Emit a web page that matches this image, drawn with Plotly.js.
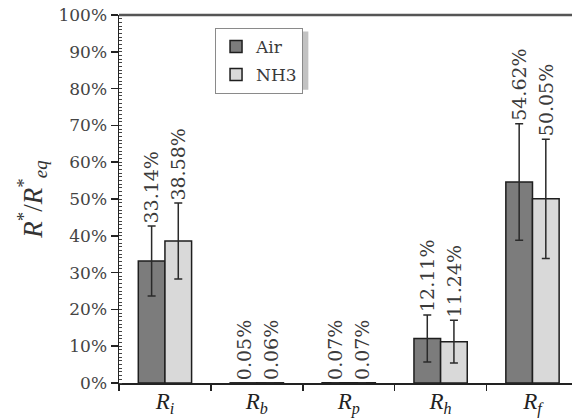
<!DOCTYPE html>
<html>
<head>
<meta charset="utf-8">
<script src="https://cdn.plot.ly/plotly-3.0.1.min.js"></script>
<style>html,body{margin:0;padding:0;background:#fff;}#chart{width:572px;height:419px;}</style>
</head>
<body>
<div id="chart"></div>
<script>
// ---- data ----
const categories = ['Ri', 'Rb', 'Rp', 'Rh', 'Rf'];
const tickLabels = ['<i>R</i><sub><i>i</i></sub>', '<i>R</i><sub><i>b</i></sub>', '<i>R</i><sub><i>p</i></sub>', '<i>R</i><sub><i>h</i></sub>', '<i>R</i><sub><i>f</i></sub>'];
const seriesNames = ['Air', 'NH3'];
const airValues = [33.14, 0.05, 0.07, 12.11, 54.62];
const nh3Values = [38.58, 0.06, 0.07, 11.24, 50.05];
const airErrors = [9.5, 0, 0, 6.4, 15.8];
const nh3Errors = [10.3, 0, 0, 5.8, 16.2];

const serif = 'DejaVu Serif, Liberation Serif, serif';
const mathSerif = 'Liberation Serif, DejaVu Serif, serif';
const textColor = '#3a3a3a';

function barTrace(name, vals, errs, color, group) {
  return {
    type: 'bar', name: name, x: categories, y: vals,
    legendgroup: group,
    marker: {color: color, line: {color: '#1e1e1e', width: 1.5}},
    error_y: {type: 'data', array: errs, visible: true, color: '#2a2a2a', thickness: 1.5, width: 4}
  };
}

const traces = [
  barTrace(seriesNames[0], airValues, airErrors, '#7c7c7c', 'a'),
  barTrace(seriesNames[1], nh3Values, nh3Errors, '#d9d9d9', 'b')
];

const annotations = [];
function addLabels(vals, errs, shift) {
  vals.forEach((v, i) => {
    annotations.push({
      x: categories[i], y: v + errs[i], xref: 'x', yref: 'y',
      text: v.toFixed(2) + '%', showarrow: false, textangle: -90,
      xanchor: 'center', yanchor: 'bottom', xshift: shift, yshift: 1,
      font: {family: serif, size: 19, color: textColor}
    });
  });
}
addLabels(airValues, airErrors, -13.5);
addLabels(nh3Values, nh3Errors, 13.5);

const layout = {
  width: 572, height: 419,
  margin: {l: 119, r: 0, t: 15, b: 36},
  paper_bgcolor: '#ffffff', plot_bgcolor: '#ffffff',
  barmode: 'group', bargap: 0.42, bargroupgap: 0,
  showlegend: true,
  legend: {
    x: 0.212, y: 0.965, xanchor: 'left', yanchor: 'top',
    bgcolor: '#ffffff', bordercolor: '#8a8a8a', borderwidth: 1,
    font: {family: serif, size: 17, color: textColor},
    tracegroupgap: 3, itemwidth: 30
  },
  xaxis: {
    type: 'category', range: [-0.5, 4.43],
    tickvals: categories, ticktext: tickLabels,
    tickson: 'boundaries', ticks: 'outside', ticklen: 6, tickwidth: 1.5, tickcolor: '#222',
    ticklabelstandoff: -3,
    showline: true, linecolor: '#222', linewidth: 1.5,
    showgrid: false, zeroline: false,
    tickfont: {family: mathSerif, size: 23, color: '#222'}
  },
  yaxis: {
    range: [0, 100], tickmode: 'linear', tick0: 0, dtick: 10, ticksuffix: '%',
    ticks: 'outside', ticklen: 7, tickwidth: 1.5, tickcolor: '#222',
    minor: {tickmode: 'linear', tick0: 0, dtick: 1, ticks: 'inside', ticklen: 3, tickcolor: '#444', tickwidth: 1, showgrid: false},
    showline: true, linecolor: '#222', linewidth: 1.5,
    showgrid: false, zeroline: false,
    tickfont: {family: serif, size: 17, color: '#444'},
    title: {text: '<i>R</i><sup>*</sup>/<i>R</i><sup>*</sup><sub><i>eq</i></sub>', standoff: 8,
            font: {family: mathSerif, size: 27, color: '#333'}}
  },
  yaxis2: {
    overlaying: 'y', anchor: 'x', side: 'left', range: [0, 100],
    tickmode: 'linear', tick0: 0, dtick: 10, ticks: 'inside', ticklen: 5, tickwidth: 1.5, tickcolor: '#222',
    showticklabels: false, showline: false, showgrid: false, zeroline: false
  },
  shapes: [
    {type: 'line', xref: 'paper', yref: 'paper', x0: 0, x1: 1, y0: 1, y1: 1,
     line: {color: '#555', width: 2.5}},
    {type: 'rect', xref: 'paper', yref: 'paper', x0: 0.222, x1: 0.418, y0: 0.797, y1: 0.955,
     fillcolor: '#c2c2c2', line: {width: 0}, layer: 'above'}
  ],
  annotations: annotations
};

Plotly.newPlot('chart', traces, layout, {displayModeBar: false, staticPlot: true});
</script>
</body>
</html>
